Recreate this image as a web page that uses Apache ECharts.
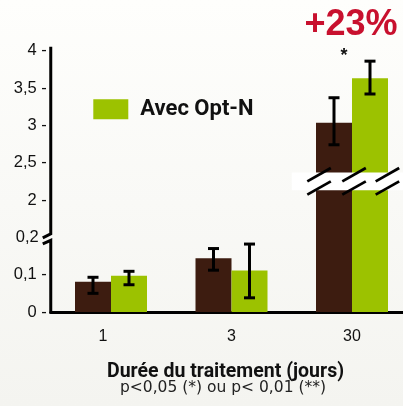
<!DOCTYPE html>
<html>
<head>
<meta charset="utf-8">
<script src="https://cdn.jsdelivr.net/npm/echarts@6/dist/echarts.min.js"></script>
<style>
html,body{margin:0;padding:0;}
#c{width:403px;height:406px;}
</style>
</head>
<body>
<div id="c"></div>
<script>
// ---- data ----
const categories = ['1', '3', '30'];
const seriesNames = ['Sans Opt-N', 'Avec Opt-N'];
const brownValues = [0.081, 0.144, 3.035];
const brownErrLow = [0.050, 0.112, 2.74];
const brownErrHigh = [0.093, 0.170, 3.37];
const greenValues = [0.097, 0.111, 3.63];
const greenErrLow = [0.073, 0.038, 3.42];
const greenErrHigh = [0.109, 0.182, 3.86];
const yTickValues = [0, 0.1, 0.2, 2, 2.5, 3, 3.5, 4];
const annotationText = '+23%';
const significanceText = '*';
const xTitle = 'Durée du traitement (jours)';
const xSubtitle = 'p<0,05 (*) ou p< 0,01 (**)';
const barBreakRange = [2.13, 2.37];

// ---- broken-scale mapping: 0..0.2 (fine) | gap | 2..4 (coarse) ----
function toAxis(v) { return v <= 0.2 ? v * 5 : 1.5 + (v - 2); }

const BROWN = '#3d1c10';
const GREEN = '#9cc200';
const BAR_W = 36;

const chart = echarts.init(document.getElementById('c'), null, {renderer: 'canvas'});

function errSeries(low, high, offset) {
  return {
    type: 'custom',
    z: 5,
    data: categories.map((c, i) => [i, toAxis(low[i]), toAxis(high[i])]),
    encode: {x: 0, y: [1, 2]},
    renderItem(params, api) {
      const lo = api.coord([api.value(0), api.value(1)]);
      const hi = api.coord([api.value(0), api.value(2)]);
      const cx = lo[0] + offset;
      const st = {stroke: '#000', lineWidth: 3};
      return {type: 'group', children: [
        {type: 'line', shape: {x1: cx, y1: hi[1], x2: cx, y2: lo[1]}, style: st},
        {type: 'line', shape: {x1: cx - 5.5, y1: hi[1], x2: cx + 5.5, y2: hi[1]}, style: st},
        {type: 'line', shape: {x1: cx - 5.5, y1: lo[1], x2: cx + 5.5, y2: lo[1]}, style: st}
      ]};
    }
  };
}

const breakIdx = categories.indexOf('30');

const option = {
  animation: false,
  backgroundColor: {
    type: 'linear', x: 0, y: 0, x2: 0, y2: 1,
    colorStops: [{offset: 0, color: '#fefefc'}, {offset: 1, color: '#f4f4f0'}]
  },
  grid: {left: 50.75, top: 50.7, width: 361.5, height: 261.3, containLabel: false, outerBoundsMode: 'none'},
  legend: {
    data: [seriesNames[1]],
    left: 93.3, top: 98.3, padding: 0,
    itemWidth: 35, itemHeight: 20, icon: 'rect',
    textStyle: {fontFamily: 'Roboto', fontWeight: 'bold', fontSize: 22, color: '#111', padding: [0, 0, 0, 7]}
  },
  xAxis: {
    type: 'category',
    data: categories,
    axisLine: {lineStyle: {color: '#000', width: 3}},
    axisTick: {show: false},
    axisLabel: {
      color: '#111', fontFamily: 'Liberation Sans', fontSize: 16, margin: 17,
      formatter: v => v === '1' ? '{a|1}' : v,
      rich: {a: {fontFamily: 'Liberation Sans', fontSize: 16, color: '#111', padding: [0, 16, 0, 0]}}
    }
  },
  yAxis: {
    type: 'value', min: 0, max: 3.5, interval: 0.5,
    axisLine: {show: false},
    axisTick: {show: false},
    splitLine: {show: false},
    axisLabel: {
      color: '#111', fontFamily: 'Liberation Sans', fontSize: 16.5, margin: 4,
      formatter: function (d) {
        const idx = Math.round(d / 0.5);
        const v = yTickValues[idx];
        const s = String(v).replace('.', ',');
        return idx === 2 ? '{b|' + s + '}' : s + ' -';
      },
      rich: {b: {fontFamily: 'Liberation Sans', fontSize: 16.5, color: '#111', padding: [0, 8, 0, 0]}}
    }
  },
  series: [
    {
      name: seriesNames[0], type: 'bar', barWidth: BAR_W, barGap: '0%',
      itemStyle: {color: BROWN},
      data: brownValues.map(toAxis)
    },
    {
      name: seriesNames[1], type: 'bar', barWidth: BAR_W, barGap: '0%',
      itemStyle: {color: GREEN},
      data: greenValues.map(toAxis)
    },
    // bar break band on the 30-day group
    {
      type: 'custom', z: 4, clip: false,
      data: [[breakIdx, toAxis(barBreakRange[0]), toAxis(barBreakRange[1])]],
      encode: {x: 0, y: [1, 2]},
      renderItem(params, api) {
        const lo = api.coord([api.value(0), api.value(1)]);
        const hi = api.coord([api.value(0), api.value(2)]);
        const bw = api.size([1, 0])[0];
        const c = lo[0];
        const mid = (lo[1] + hi[1]) / 2;
        const children = [{
          type: 'rect',
          shape: {x: c - bw / 2, y: hi[1], width: bw, height: lo[1] - hi[1]},
          style: {fill: '#ffffff'}
        }];
        const st = {stroke: '#000', lineWidth: 2.8};
        [-44.7, -9.7, 23.7].forEach(dx => {
          const x0 = c + dx;
          children.push({type: 'line', shape: {x1: x0, y1: mid, x2: x0 + 23.5, y2: mid - 13.3}, style: st});
          children.push({type: 'line', shape: {x1: x0, y1: mid + 13.3, x2: x0 + 23.5, y2: mid}, style: st});
        });
        return {type: 'group', children};
      }
    },
    errSeries(brownErrLow, brownErrHigh, -BAR_W / 2),
    errSeries(greenErrLow, greenErrHigh, BAR_W / 2),
    // y axis line with break mark
    {
      type: 'custom', z: 6, clip: false,
      data: [[0, 0]],
      renderItem(params, api) {
        const ax = params.coordSys.x;
        const yTop = api.coord([0, toAxis(4)])[1] - 4;
        const yBrk = api.coord([0, toAxis(0.2)])[1];
        const yBot = api.coord([0, 0])[1] + 1.5;
        const st = {stroke: '#000', lineWidth: 3, fill: null, lineJoin: 'miter'};
        return {type: 'group', children: [
          {type: 'polyline', shape: {points: [[ax, yTop], [ax, yBrk - 3.5], [ax - 8, yBrk + 0.5]]}, style: st},
          {type: 'polyline', shape: {points: [[ax - 8, yBrk + 6.5], [ax, yBrk + 3], [ax, yBot]]}, style: st}
        ]};
      }
    }
  ]
};
chart.setOption(option);

// annotations positioned from the axes
const p30 = chart.convertToPixel({seriesIndex: 0}, [breakIdx, toAxis(4)]);
chart.setOption({
  graphic: [
    {type: 'text', style: {text: annotationText, x: p30[0] - 1, y: 25.2, font: 'bold 36px "Liberation Sans"', fill: '#c8102e', align: 'center', verticalAlign: 'middle', textAlign: 'center', textVerticalAlign: 'middle'}},
    {type: 'text', style: {text: significanceText, x: p30[0] - 8, y: 56, font: 'bold 18px "Liberation Sans"', fill: '#111', align: 'center', verticalAlign: 'middle', textAlign: 'center', textVerticalAlign: 'middle'}},
    {type: 'text', style: {text: xTitle, x: 225.5, y: 371.9, font: 'bold 19.5px Roboto', fill: '#111', align: 'center', verticalAlign: 'middle', textAlign: 'center', textVerticalAlign: 'middle'}},
    {type: 'text', style: {text: xSubtitle, x: 223, y: 387.7, font: '15.5px "DejaVu Sans"', fill: '#222', align: 'center', verticalAlign: 'middle', textAlign: 'center', textVerticalAlign: 'middle'}}
  ]
});
</script>
</body>
</html>
